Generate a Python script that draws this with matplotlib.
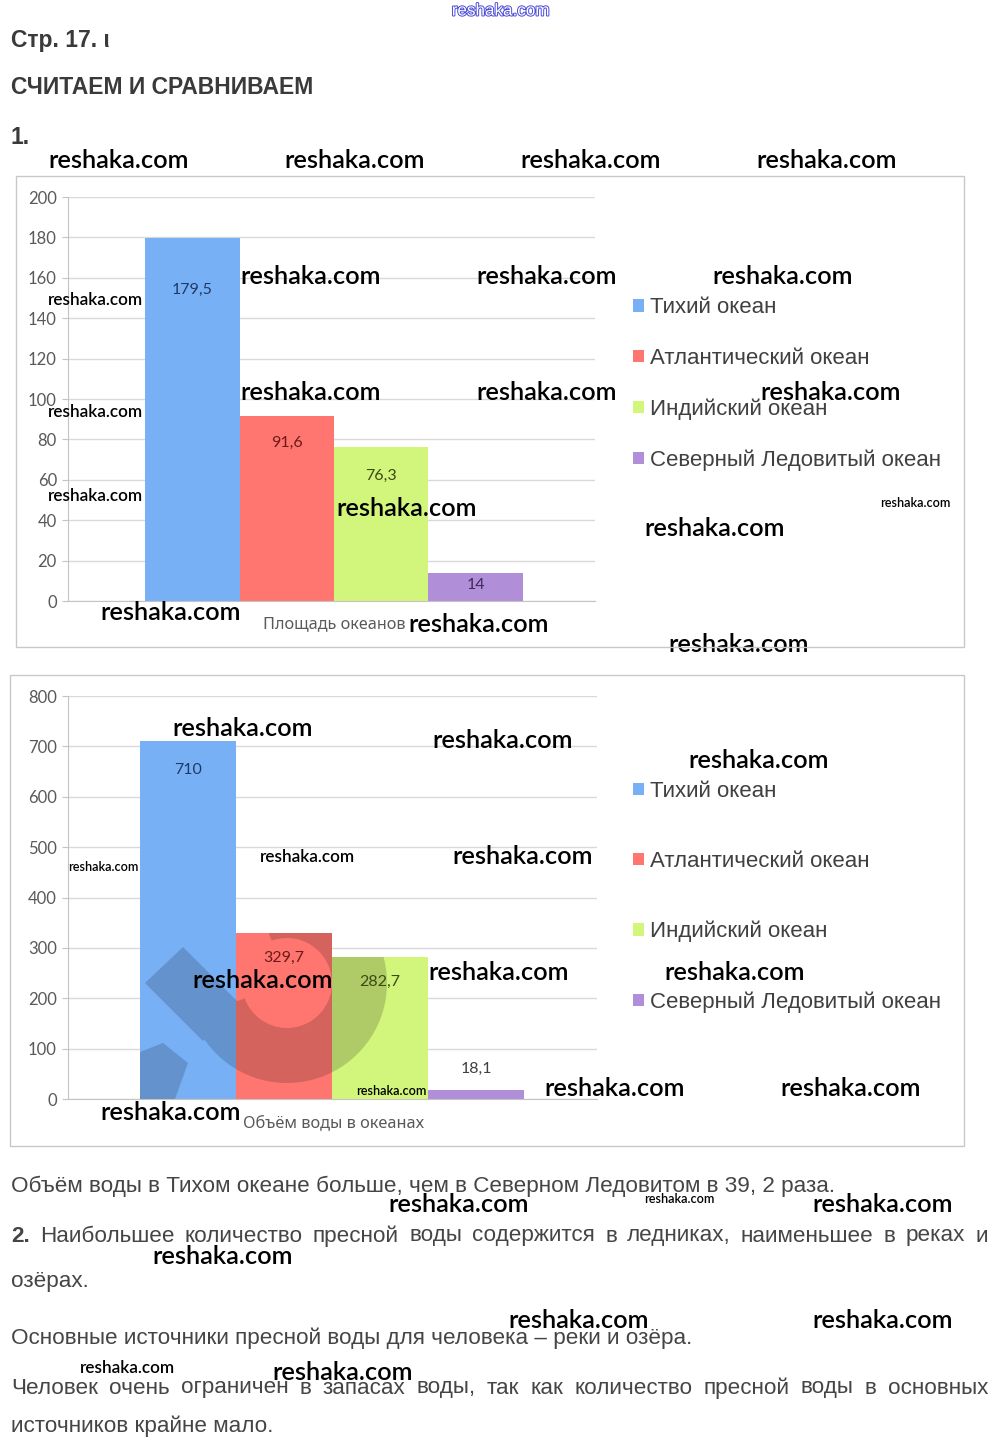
import matplotlib
matplotlib.use('Agg')
import matplotlib.pyplot as plt
import matplotlib.patches as mpatches
import matplotlib.transforms as mtransforms
import matplotlib.patheffects as pe
import matplotlib.colors as mcolors
import numpy as np

W, H = 1000, 1454

# chart data
oceans = ['Тихий океан', 'Атлантический океан', 'Индийский океан',
          'Северный Ледовитый океан']
area = [179.5, 91.6, 76.3, 14]
area_labels = ['179,5', '91,6', '76,3', '14']
area_ticks = list(range(0, 201, 20))
volume = [710, 329.7, 282.7, 18.1]
volume_labels = ['710', '329,7', '282,7', '18,1']
volume_ticks = list(range(0, 801, 100))

BAR_COLORS = ['#78b0f6', '#ff7670', '#d2f57c', '#b08ed8']
LABEL_COLORS_1 = ['#1f3a66', '#6b1a1a', '#3d4a14', '#3e2a5c']
LABEL_COLORS_2 = ['#1f3a66', '#6b1a1a', '#3d4a14', '#404040']
BODY = 'Liberation Sans'
CAL = 'Lato'
NOTO = 'Noto Sans'

fig = plt.figure(figsize=(W / 100, H / 100), dpi=100)
fig.patch.set_facecolor('white')
renderer = fig.canvas.get_renderer()
# pixel coordinates, origin top-left
PX = mtransforms.Affine2D().scale(1 / W, -1 / H).translate(0, 1) + fig.transFigure


def px_axes(x0, y0, x1, y1):
    return fig.add_axes([x0 / W, 1 - y1 / H, (x1 - x0) / W, (y1 - y0) / H])


def fit_size(s, width, **kw):
    t = fig.text(0, 0, s, fontsize=10, **kw)
    w = t.get_window_extent(renderer).width
    t.remove()
    return 10 * width / w


def draw_chart(ax, values, labels, ticks, offsets, lab_colors, xlim):
    x = np.arange(len(values))
    bars = ax.bar(x, values, width=1.0, color=BAR_COLORS, zorder=2)
    for xi, v, lbl, off, c in zip(x, values, labels, offsets, lab_colors):
        ax.annotate(lbl, (xi, v), xytext=(0, -off), textcoords='offset pixels',
                    ha='center', va='center', fontsize=11.5, family=CAL,
                    color=c, zorder=5)
    ax.set_xlim(*xlim)
    ax.set_ylim(ticks[0], ticks[-1])
    ax.set_yticks(ticks)
    ax.set_xticks([])
    ax.yaxis.grid(True, color='#d9d9d9', lw=1)
    ax.set_axisbelow(True)
    for s in ('top', 'right'):
        ax.spines[s].set_visible(False)
    for s in ('left', 'bottom'):
        ax.spines[s].set_color('#c4c4c4')
    ax.tick_params(axis='y', length=4, color='#c4c4c4', pad=4,
                   labelsize=12, labelcolor='#595959')
    for t in ax.get_yticklabels():
        t.set_family(CAL)
    ax.patch.set_alpha(0)
    return bars


def legend(ax, bars, center_y, pitch):
    size = fit_size('Северный Ледовитый океан', 294, family=BODY)
    fpx = size * 100 / 72
    ax.legend(list(bars), oceans, loc='center left',
              bbox_to_anchor=(633 / W, 1 - center_y / H),
              bbox_transform=fig.transFigure, frameon=False,
              prop={'family': BODY, 'size': size}, labelcolor='#404040',
              handlelength=11 / fpx, handleheight=11 / fpx,
              handletextpad=6 / fpx, labelspacing=pitch / fpx - 0.92,
              borderpad=0, borderaxespad=0)


# frames around the two charts
for (x0, y0, x1, y1) in [(16, 176, 964, 647), (10, 675, 964, 1146)]:
    fig.add_artist(mpatches.Rectangle((x0, y0), x1 - x0, y1 - y0, transform=PX,
                                      fill=False, ec='#c8c8c8', lw=1))

ax1 = px_axes(68, 197, 595, 601)
bars1 = draw_chart(ax1, area, area_labels, area_ticks, [51, 27, 29, 12],
                   LABEL_COLORS_1, (-1.315, 4.262))
legend(ax1, bars1, 384, 50)

ax2 = px_axes(68, 696, 597, 1099)
bars2 = draw_chart(ax2, volume, volume_labels, volume_ticks, [29, 25, 25, -21],
                   LABEL_COLORS_2, (-1.25, 4.26))
legend(ax2, bars2, 897, 69.5)

# faint logo watermark seen only over the bars
for bar in bars2:
    dark = np.array(mcolors.to_rgb(bar.get_facecolor())) * 0.83
    shapes = [
        mpatches.Wedge((287, 983), 100, -110, 160, width=55),
        mpatches.Polygon([(183, 947), (145, 983), (203, 1041), (241, 1005)]),
        mpatches.Polygon([(140, 1052), (163, 1043), (188, 1063), (175, 1099), (140, 1099)]),
    ]
    for p in shapes:
        p.set_transform(PX)
        p.set_facecolor(dark)
        p.set_edgecolor('none')
        p.set_zorder(3)
        ax2.add_artist(p)
        p.set_clip_path(bar)

# overlay for page text
ov = fig.add_axes([0, 0, 1, 1])
ov.set_xlim(0, W)
ov.set_ylim(H, 0)
ov.axis('off')
ov.patch.set_alpha(0)


def put(x, y, s, width=None, size=12, **kw):
    kw.setdefault('va', 'center')
    t = ov.text(x, y, s, fontsize=size, **kw)
    if width:
        w = t.get_window_extent(renderer).width
        t.set_fontsize(size * width / w)
    return t


def justify(y, words, x0, x1, size, weights=None, **kw):
    weights = weights or ['normal'] * len(words)
    ts = [ov.text(0, y, w, fontsize=size, va='center', ha='left',
                  fontweight=wt, **kw) for w, wt in zip(words, weights)]
    widths = [t.get_window_extent(renderer).width for t in ts]
    gap = (x1 - x0 - sum(widths)) / (len(words) - 1)
    x = x0
    for t, w in zip(ts, widths):
        t.set_x(x)
        x += w + gap


HEAD = '#3a3a3a'
TXT = '#454545'
hs = fit_size('СЧИТАЕМ И СРАВНИВАЕМ', 301, family=BODY, fontweight='bold')
put(11, 40, 'Стр. 17. ι', size=hs, family=BODY, color=HEAD, fontweight='bold')
put(11, 88, 'СЧИТАЕМ И СРАВНИВАЕМ', size=hs, family=BODY, color=HEAD, fontweight='bold')
put(11, 138, '1.', size=hs, family=BODY, color=HEAD, fontweight='bold')

t = put(501, 11, 'reshaka.com', width=98, family=BODY, color='white', ha='center')
t.set_path_effects([pe.withStroke(linewidth=1.4, foreground='#4a4ad8')])

put(263, 624, 'Площадь океанов', width=142, family=NOTO, color='#595959')
put(243, 1123, 'Объём воды в океанах', width=181, family=NOTO, color='#595959')

bs = fit_size('Объём воды в Тихом океане больше, чем в Северном Ледовитом в 39, 2 раза.',
              824, family=BODY)
put(11, 1186, 'Объём воды в Тихом океане больше, чем в Северном Ледовитом в 39, 2 раза.',
    size=bs, family=BODY, color=TXT)
line2 = '2. Наибольшее количество пресной воды содержится в ледниках, наименьшее в реках и'.split()
justify(1236, line2, 11, 988, bs, weights=['bold'] + ['normal'] * (len(line2) - 1),
        family=BODY, color=TXT)
put(11, 1282, 'озёрах.', size=bs, family=BODY, color=TXT)
put(11, 1338, 'Основные источники пресной воды для человека – реки и озёра.',
    size=bs, family=BODY, color=TXT)
line5 = 'Человек очень ограничен в запасах воды, так как количество пресной воды в основных'.split()
justify(1388, line5, 11, 988, bs, family=BODY, color=TXT)
put(11, 1426, 'источников крайне мало.', size=bs, family=BODY, color=TXT)

# site watermarks: left x, centre y, width in pixels
marks = [
    (48, 160, 141), (284, 160, 141), (520, 160, 141), (756, 160, 141),
    (240, 276, 141), (476, 276, 141), (712, 276, 141), (48, 300, 95),
    (240, 392, 141), (476, 392, 141), (760, 392, 141), (48, 412, 95),
    (48, 496, 95), (336, 508, 141), (880, 503, 70), (644, 528, 141),
    (100, 612, 141), (408, 624, 141), (668, 644, 141),
    (172, 728, 141), (432, 740, 141), (688, 760, 141),
    (452, 856, 141), (260, 857, 95), (68, 867, 70),
    (192, 980, 141), (428, 972, 141), (664, 972, 141),
    (356, 1091, 70), (544, 1088, 141), (780, 1088, 141), (100, 1112, 141),
    (388, 1204, 141), (644, 1199, 70), (812, 1204, 141), (152, 1256, 141),
    (508, 1320, 141), (812, 1320, 141), (80, 1368, 95), (272, 1372, 141),
]
for mx, my, mw in marks:
    put(mx, my, 'reshaka.com', width=mw, family=CAL, fontweight='semibold',
        color='black')

fig.savefig('out.png', dpi=100, facecolor='white')
